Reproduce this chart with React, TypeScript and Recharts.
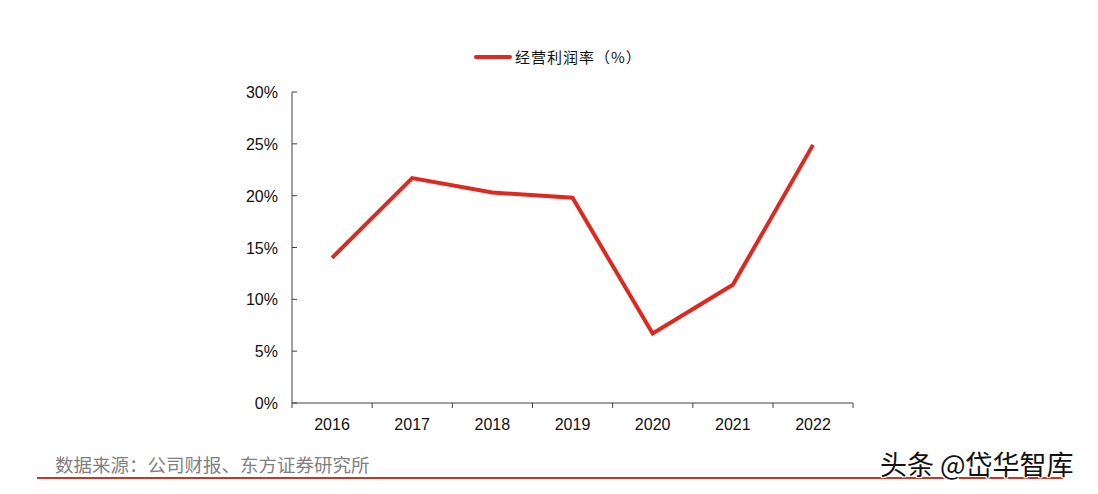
import React from "react";
import { LineChart, Line, XAxis, YAxis } from "recharts";

const years = ["2016", "2017", "2018", "2019", "2020", "2021", "2022"];
const marginValues = [14.0, 21.7, 20.3, 19.8, 6.7, 11.4, 24.9];
const yTicks = [0, 5, 10, 15, 20, 25, 30];

const seriesName = "经营利润率（%）";
const sourceNote = "数据来源：公司财报、东方证券研究所";
const watermark = "头条 @岱华智库";

const data = years.map((year, i) => ({ year, value: marginValues[i] }));

const RED = "#dc2a22";
const AXIS = "#404040";
const FONT = '"Liberation Sans", Arial, "Noto Sans CJK SC", sans-serif';
const CJK = '"Noto Sans CJK SC", sans-serif';
const HALF_BAND = 40;

// y ticks: small mark inside the plot, label to the left
const YTick = (props: any) => {
  const { x, y, payload } = props;
  return (
    <g>
      <line x1={x} x2={x + 5} y1={y} y2={y} stroke={AXIS} strokeWidth={1} />
      <text x={x - 14} y={y} dy={6} textAnchor="end" fontSize={16} fill="#111" fontFamily={FONT}>
        {payload.value}%
      </text>
    </g>
  );
};

// x ticks: marks on the band edges, label in the band centre
const XTick = (props: any) => {
  const { x, y, payload, index } = props;
  const last = index === years.length - 1;
  return (
    <g>
      <line x1={x - HALF_BAND} x2={x - HALF_BAND} y1={y} y2={y + 5} stroke={AXIS} strokeWidth={1} />
      {last && (
        <line x1={x + HALF_BAND} x2={x + HALF_BAND} y1={y} y2={y + 5} stroke={AXIS} strokeWidth={1} />
      )}
      <text x={x} y={y + 27} textAnchor="middle" fontSize={16} fill="#111" fontFamily={FONT}>
        {payload.value}
      </text>
    </g>
  );
};

export default function App() {
  return (
    <div style={{ position: "absolute", left: 0, top: 0, width: 1098, height: 494, background: "#fff" }}>
      <div
        style={{
          position: "absolute",
          left: 474,
          top: 46,
          display: "flex",
          alignItems: "center",
          fontFamily: CJK,
        }}
      >
        <div style={{ width: 38, height: 4, background: RED, borderRadius: 2, marginRight: 3 }} />
        <span style={{ fontSize: 15, color: "#111", lineHeight: "22px", letterSpacing: 1 }}>{seriesName}</span>
      </div>
      <LineChart
        width={1098}
        height={494}
        data={data}
        margin={{ top: 92, right: 245, left: 232, bottom: 61 }}
      >
        <XAxis
          dataKey="year"
          padding={{ left: HALF_BAND, right: HALF_BAND }}
          axisLine={{ stroke: AXIS, strokeWidth: 1 }}
          tickLine={false}
          tickSize={0}
          tickMargin={0}
          height={30}
          interval={0}
          tick={<XTick />}
        />
        <YAxis
          domain={[0, 30]}
          ticks={yTicks}
          width={60}
          axisLine={{ stroke: AXIS, strokeWidth: 1 }}
          tickLine={false}
          tickSize={0}
          tickMargin={0}
          tick={<YTick />}
        />
        <Line
          type="linear"
          dataKey="value"
          name={seriesName}
          stroke={RED}
          strokeWidth={4}
          dot={false}
          activeDot={false}
          isAnimationActive={false}
        />
      </LineChart>
      <div
        style={{
          position: "absolute",
          left: 55,
          top: 452,
          fontSize: 18.5,
          color: "#808080",
          fontFamily: CJK,
          lineHeight: "24px",
        }}
      >
        {sourceNote}
      </div>
      <div style={{ position: "absolute", left: 37, top: 477, width: 1026, height: 2, background: "#c0392b" }} />
      <div
        style={{
          position: "absolute",
          left: 880,
          top: 447,
          fontSize: 27,
          color: "#111",
          fontFamily: CJK,
          lineHeight: "34px",
          textShadow: "1px 1px 0 #fff, -1px -1px 0 #fff, 1px -1px 0 #fff, -1px 1px 0 #fff",
        }}
      >
        {watermark}
      </div>
    </div>
  );
}
